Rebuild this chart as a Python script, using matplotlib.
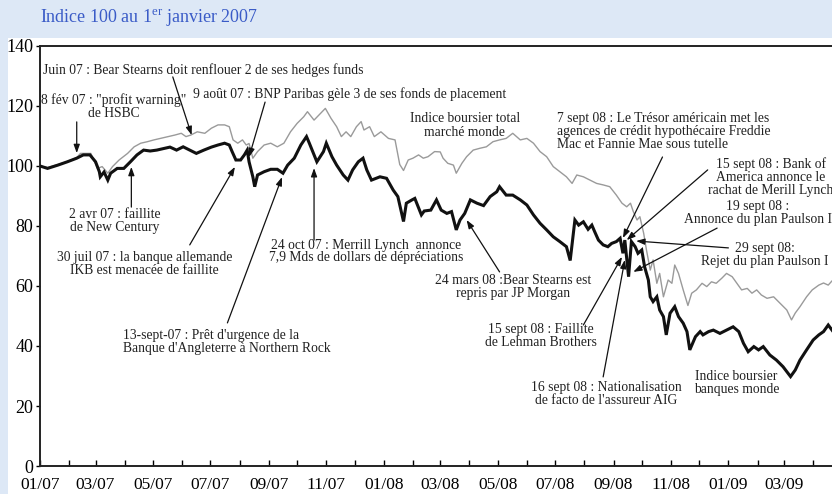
import matplotlib
matplotlib.use("Agg")
import matplotlib.pyplot as plt
import matplotlib.dates as mdates
from matplotlib.patches import Rectangle
import pandas as pd

plt.rcParams['font.family'] = ['Liberation Serif', 'DejaVu Serif']
plt.rcParams['mathtext.fontset'] = 'custom'
plt.rcParams['mathtext.rm'] = 'Liberation Serif'

# Indice boursier banques monde (black)
bank_dates = [
    "2007-01-01", "2007-01-09", "2007-01-20", "2007-01-30", "2007-02-09", "2007-02-16",
    "2007-02-23", "2007-03-01", "2007-03-05", "2007-03-06", "2007-03-10", "2007-03-14",
    "2007-03-17", "2007-03-24", "2007-03-31", "2007-04-07", "2007-04-14", "2007-04-21",
    "2007-04-28", "2007-05-05", "2007-05-12", "2007-05-19", "2007-05-26", "2007-06-02",
    "2007-06-09", "2007-06-16", "2007-06-24", "2007-07-02", "2007-07-09", "2007-07-16",
    "2007-07-21", "2007-07-24", "2007-07-28", "2007-08-02", "2007-08-06", "2007-08-09",
    "2007-08-11", "2007-08-15", "2007-08-17", "2007-08-20", "2007-08-27", "2007-09-03",
    "2007-09-10", "2007-09-16", "2007-09-21", "2007-09-28", "2007-10-05", "2007-10-11",
    "2007-10-14", "2007-10-22", "2007-10-29", "2007-11-01", "2007-11-07", "2007-11-12",
    "2007-11-19", "2007-11-24", "2007-11-29", "2007-12-05", "2007-12-10", "2007-12-14",
    "2007-12-19", "2007-12-28", "2008-01-04", "2008-01-11", "2008-01-16", "2008-01-22",
    "2008-01-25", "2008-01-31", "2008-02-03", "2008-02-10", "2008-02-13", "2008-02-20",
    "2008-02-26", "2008-03-02", "2008-03-08", "2008-03-13", "2008-03-18", "2008-03-22",
    "2008-03-27", "2008-04-02", "2008-04-09", "2008-04-16", "2008-04-23", "2008-04-30",
    "2008-05-03", "2008-05-10", "2008-05-17", "2008-05-25", "2008-06-01", "2008-06-08",
    "2008-06-15", "2008-06-22", "2008-06-29", "2008-07-06", "2008-07-13", "2008-07-17",
    "2008-07-22", "2008-07-26", "2008-07-31", "2008-08-05", "2008-08-09", "2008-08-12",
    "2008-08-16", "2008-08-21", "2008-08-26", "2008-08-30", "2008-09-04", "2008-09-08",
    "2008-09-11", "2008-09-13", "2008-09-17", "2008-09-20", "2008-09-24", "2008-09-27",
    "2008-10-01", "2008-10-04", "2008-10-08", "2008-10-10", "2008-10-13", "2008-10-17",
    "2008-10-20", "2008-10-24", "2008-10-27", "2008-10-31", "2008-11-05", "2008-11-09",
    "2008-11-14", "2008-11-18", "2008-11-21", "2008-11-27", "2008-12-02", "2008-12-05",
    "2008-12-11", "2008-12-16", "2008-12-23", "2008-12-30", "2009-01-06", "2009-01-12",
    "2009-01-17", "2009-01-22", "2009-01-28", "2009-02-02", "2009-02-07", "2009-02-14",
    "2009-02-21", "2009-02-28", "2009-03-08", "2009-03-13", "2009-03-18", "2009-03-25",
    "2009-04-01", "2009-04-07", "2009-04-12", "2009-04-17", "2009-04-21", "2009-04-28",
]
bank_values = [
    100.0, 99.2, 100.3, 101.4, 102.6, 103.7,
    103.7, 101.4, 98.1, 96.4, 98.0, 95.3,
    97.6, 99.2, 99.2, 101.4, 103.7, 105.3,
    105.0, 105.3, 105.8, 106.3, 105.3, 106.4,
    105.3, 104.2, 105.3, 106.3, 107.0, 107.6,
    107.0, 104.8, 102.0, 102.0, 103.7, 105.3,
    101.4, 96.4, 93.1, 97.0, 98.1, 98.9,
    98.9, 97.6, 100.3, 102.6, 107.0, 109.8,
    107.6, 101.4, 104.8, 107.6, 103.1, 100.3,
    97.0, 95.3, 98.7, 101.4, 102.6, 98.7,
    95.3, 96.4, 95.9, 92.0, 89.8, 81.5,
    87.6, 88.7, 89.2, 83.7, 85.0, 85.3,
    88.7, 85.3, 84.2, 84.8, 78.7, 82.0,
    84.2, 88.7, 87.6, 86.8, 89.8, 91.4,
    93.1, 90.3, 90.3, 88.7, 87.0, 83.7,
    80.9, 78.7, 76.4, 74.8, 73.1, 68.5,
    82.0, 80.3, 81.4, 78.9, 80.3, 78.1,
    75.3, 73.7, 73.1, 74.2, 74.8, 75.9,
    70.9, 75.3, 63.1, 74.8, 73.1, 70.9,
    72.0, 66.4, 62.0, 56.4, 54.8, 56.4,
    52.0, 49.8, 43.7, 50.9, 53.1, 49.8,
    47.6, 44.8, 38.7, 43.1, 44.8, 43.7,
    44.8, 45.3, 44.2, 45.3, 46.4, 44.8,
    40.9, 38.1, 39.8, 38.7, 39.8, 37.0,
    35.3, 33.1, 29.8, 32.0, 35.3, 38.7,
    42.0, 43.7, 44.8, 47.0, 45.3, 48.0,
]

# Indice boursier total marche monde (grey)
world_dates = [
    "2007-01-01", "2007-01-09", "2007-01-20", "2007-01-30", "2007-02-09", "2007-02-13",
    "2007-02-24", "2007-03-03", "2007-03-08", "2007-03-14", "2007-03-19", "2007-03-26",
    "2007-04-04", "2007-04-11", "2007-04-18", "2007-04-25", "2007-05-02", "2007-05-09",
    "2007-05-17", "2007-05-24", "2007-05-31", "2007-06-05", "2007-06-10", "2007-06-17",
    "2007-06-25", "2007-07-02", "2007-07-09", "2007-07-16", "2007-07-21", "2007-07-25",
    "2007-07-30", "2007-08-04", "2007-08-08", "2007-08-11", "2007-08-15", "2007-08-20",
    "2007-08-27", "2007-09-03", "2007-09-10", "2007-09-17", "2007-09-24", "2007-10-01",
    "2007-10-08", "2007-10-12", "2007-10-19", "2007-10-26", "2007-10-31", "2007-11-06",
    "2007-11-12", "2007-11-17", "2007-11-22", "2007-11-27", "2007-12-03", "2007-12-08",
    "2007-12-11", "2007-12-17", "2007-12-22", "2007-12-29", "2008-01-06", "2008-01-13",
    "2008-01-18", "2008-01-22", "2008-01-27", "2008-02-01", "2008-02-07", "2008-02-12",
    "2008-02-17", "2008-02-24", "2008-03-01", "2008-03-04", "2008-03-09", "2008-03-15",
    "2008-03-18", "2008-03-24", "2008-03-29", "2008-04-05", "2008-04-12", "2008-04-19",
    "2008-04-26", "2008-05-03", "2008-05-10", "2008-05-17", "2008-05-25", "2008-06-01",
    "2008-06-08", "2008-06-15", "2008-06-22", "2008-06-29", "2008-07-06", "2008-07-13",
    "2008-07-19", "2008-07-24", "2008-07-31", "2008-08-07", "2008-08-14", "2008-08-21",
    "2008-08-28", "2008-09-04", "2008-09-10", "2008-09-15", "2008-09-19", "2008-09-22",
    "2008-09-26", "2008-09-29", "2008-10-03", "2008-10-06", "2008-10-10", "2008-10-13",
    "2008-10-17", "2008-10-20", "2008-10-24", "2008-10-29", "2008-11-02", "2008-11-05",
    "2008-11-09", "2008-11-14", "2008-11-19", "2008-11-23", "2008-11-28", "2008-12-04",
    "2008-12-09", "2008-12-14", "2008-12-19", "2008-12-25", "2008-12-30", "2009-01-05",
    "2009-01-10", "2009-01-15", "2009-01-21", "2009-01-26", "2009-01-31", "2009-02-05",
    "2009-02-11", "2009-02-18", "2009-02-25", "2009-03-04", "2009-03-09", "2009-03-13",
    "2009-03-18", "2009-03-25", "2009-03-31", "2009-04-07", "2009-04-12", "2009-04-17",
    "2009-04-21", "2009-04-28",
]
world_values = [
    100.0, 99.5, 100.5, 101.5, 102.8, 104.2,
    104.2, 99.2, 99.8, 97.6, 99.8, 102.0,
    104.2, 106.4, 107.6, 108.1, 108.7, 109.2,
    109.8, 110.3, 110.9, 109.8, 110.3, 111.4,
    110.9, 112.6, 113.7, 113.7, 113.1, 108.7,
    107.6, 108.7, 107.0, 107.5, 102.6, 104.8,
    107.0, 107.6, 106.4, 107.6, 111.4, 114.2,
    116.4, 118.1, 115.3, 117.6, 119.2, 115.9,
    113.1, 109.8, 111.4, 109.8, 113.1, 114.8,
    112.0, 113.1, 109.8, 111.4, 109.2, 108.7,
    100.5, 98.5, 102.0, 102.6, 103.7, 102.6,
    103.1, 104.8, 104.7, 102.6, 100.9, 100.3,
    97.6, 100.9, 103.1, 105.3, 105.9, 106.4,
    108.1, 108.7, 109.2, 110.9, 108.7, 109.2,
    107.6, 104.8, 103.1, 99.8, 98.1, 96.4,
    94.2, 97.0, 96.4, 95.3, 94.2, 93.7,
    93.1, 90.3, 87.6, 86.4, 87.6, 84.8,
    82.0, 83.1, 77.6, 72.0, 65.3, 68.7,
    60.9, 64.2, 56.4, 62.0, 60.9, 67.0,
    64.2, 58.7, 53.5, 57.6, 58.7, 60.9,
    59.8, 61.4, 60.9, 62.6, 64.2, 63.1,
    60.9, 58.7, 59.2, 57.6, 58.7, 57.0,
    55.9, 56.4, 54.2, 52.0, 48.7, 51.0,
    53.1, 56.4, 58.7, 60.3, 61.0, 60.3,
    61.7, 62.5,
]

x_start = "2007-01-01"
x_end = "2009-04-21"
y_ticks = [0, 20, 40, 60, 80, 100, 120, 140]

W, H = 832, 494
fig = plt.figure(figsize=(W / 100, H / 100), dpi=100, facecolor="#dde8f6")
fig.patches.append(Rectangle((8 / W, 0), 1, 1 - 38 / H, transform=fig.transFigure,
                             facecolor="white", edgecolor="none", zorder=-1))
ax = fig.add_axes([40 / W, 28 / H, 1 - 40 / W, 420 / H])

ax.plot(pd.to_datetime(world_dates), world_values, color="#9a9a9a", lw=1.0, zorder=2)
ax.plot(pd.to_datetime(bank_dates), bank_values, color="#111111", lw=2.2,
        solid_joinstyle="miter", zorder=3)

ax.set_xlim(mdates.datestr2num(x_start), mdates.datestr2num(x_end))
ax.set_ylim(0, 140)
ax.set_yticks(y_ticks)
ax.xaxis.set_major_locator(mdates.MonthLocator(bymonth=[1, 3, 5, 7, 9, 11]))
ax.xaxis.set_minor_locator(mdates.MonthLocator())
ax.xaxis.set_major_formatter(mdates.DateFormatter("%m/%y"))
ax.tick_params(axis="x", which="both", direction="in", length=4, width=1, labelsize=12.5, pad=8)
ax.tick_params(axis="y", direction="out", length=3, width=1, labelsize=13, pad=2)
ax.spines["right"].set_visible(False)
for s in ["left", "bottom", "top"]:
    ax.spines[s].set_linewidth(1.4)
    ax.spines[s].set_color("#222222")

d = mdates.datestr2num
fs = 9.8


def note(x, y, txt, ha="center"):
    ax.text(d(x), y, txt, ha=ha, va="center", fontsize=fs, linespacing=1.0,
            color="#222222", clip_on=False)


def arrow(tail, tip):
    ax.annotate("", xy=(d(tip[0]), tip[1]), xytext=(d(tail[0]), tail[1]),
                arrowprops=dict(arrowstyle="-|>,head_length=0.5,head_width=0.18",
                                color="#111111", lw=0.9, shrinkA=0, shrinkB=0),
                zorder=4)


note("2007-01-04", 132.0, "Juin 07 : Bear Stearns doit renflouer 2 de ses hedges funds", ha="left")
arrow(("2007-05-22", 129.7), ("2007-06-11", 110.3))

note("2007-03-20", 119.7, "8 fév 07 : \"profit warning\"\nde HSBC")
arrow(("2007-02-09", 114.7), ("2007-02-09", 104.3))

note("2007-06-12", 124.0, "9 août 07 : BNP Paribas gèle 3 de ses fonds de placement", ha="left")
arrow(("2007-08-28", 121.3), ("2007-08-11", 103.0))

note("2007-03-21", 81.7, "2 avr 07 : faillite\nde New Century")
arrow(("2007-04-08", 86.3), ("2007-04-08", 99.7))

note("2007-04-22", 67.2, "30 juil 07 : la banque allemande\nIKB est menacée de faillite")
arrow(("2007-06-09", 73.7), ("2007-07-27", 99.7))

note("2007-03-30", 41.3, "13-sept-07 : Prêt d'urgence de la\nBanque d'Angleterre à Northern Rock", ha="left")
arrow(("2007-07-19", 47.7), ("2007-09-15", 96.3))

note("2007-12-13", 71.5, "24 oct 07 : Merrill Lynch  annonce\n7,9 Mds de dollars de dépréciations")
arrow(("2007-10-19", 75.3), ("2007-10-19", 99.3))

note("2008-03-27", 113.5, "Indice boursier total\nmarché monde")

note("2008-07-03", 111.4, "7 sept 08 : Le Trésor américain met les\nagences de crédit hypothécaire Freddie\nMac et Fannie Mae sous tutelle", ha="left")
arrow(("2008-10-23", 103.0), ("2008-09-11", 76.0))

note("2009-02-15", 96.4, "15 sept 08 : Bank of\nAmerica annonce le\nrachat de Merill Lynch")
arrow(("2008-12-10", 98.7), ("2008-09-15", 75.3))

note("2009-02-01", 84.2, "19 sept 08 :\nAnnonce du plan Paulson I")
arrow(("2008-12-20", 79.3), ("2008-09-22", 64.7))

note("2009-02-09", 70.2, "29 sept 08:\nRejet du plan Paulson I")
arrow(("2009-01-01", 72.7), ("2008-09-25", 75.0))

note("2008-05-17", 59.7, "24 mars 08 :Bear Stearns est\nrepris par JP Morgan")
arrow(("2008-05-03", 64.7), ("2008-03-29", 82.0))

note("2008-06-16", 43.5, "15 sept 08 : Faillite\nde Lehman Brothers")
arrow(("2008-07-31", 47.0), ("2008-09-10", 69.7))

note("2008-08-24", 24.0, "16 sept 08 : Nationalisation\nde facto de l'assureur AIG")
arrow(("2008-08-21", 29.7), ("2008-09-13", 68.7))

note("2008-11-26", 27.8, "Indice boursier\nbanques monde", ha="left")

fig.text(40 / W, 1 - 18 / H, r"Indice 100 au 1$^{\mathrm{er}}$ janvier 2007",
         color="#3a5bc7", fontsize=13, va="center", ha="left")

fig.savefig("out.png", dpi=100, facecolor=fig.get_facecolor())
